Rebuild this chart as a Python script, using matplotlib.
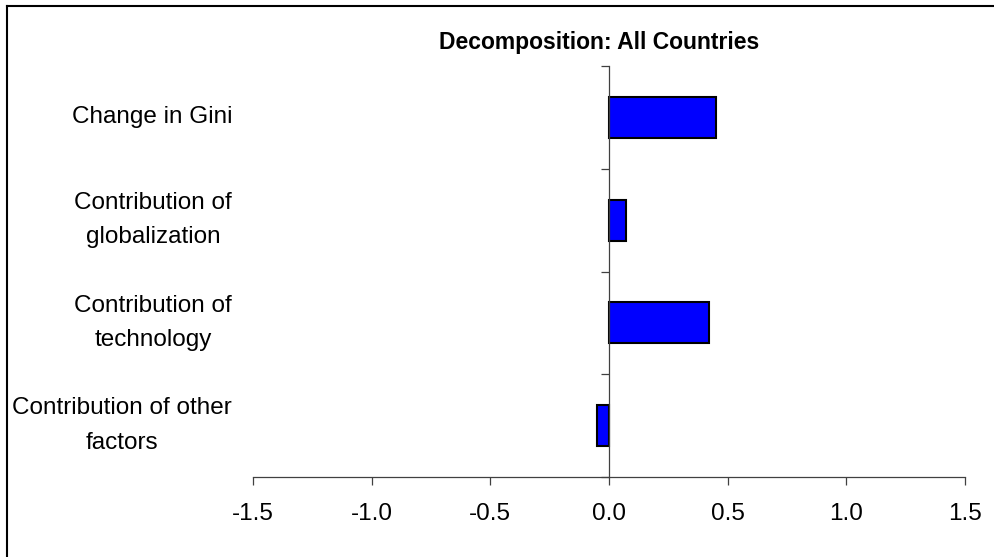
import matplotlib.pyplot as plt
from matplotlib.lines import Line2D
from matplotlib.ticker import FixedLocator

# 数据
categories = ['Change in Gini', 'Contribution of\nglobalization',
              'Contribution of\ntechnology', 'Contribution of other\nfactors']
values = [0.45, 0.07, 0.42, -0.05]
x_ticks = [-1.5, -1.0, -0.5, 0.0, 0.5, 1.0, 1.5]
title = 'Decomposition: All Countries'

plt.rcParams['font.family'] = ['Liberation Sans', 'DejaVu Sans']

fig = plt.figure(figsize=(9.95, 5.57), dpi=100)
ax = fig.add_axes([253 / 995, 1 - 477 / 557, 712 / 995, 411 / 557])

pos = list(range(len(categories)))
ax.barh(pos, values, height=0.4, color='#0000FF', edgecolor='black', linewidth=1.5, zorder=3)

ax.set_xlim(-1.5, 1.5)
ax.set_ylim(len(categories) - 0.5, -0.5)

# 坐标轴样式
axis_color = '#404040'
for s in ['top', 'right']:
    ax.spines[s].set_visible(False)
ax.spines['left'].set_position(('data', 0))
ax.spines['left'].set_color(axis_color)
ax.spines['left'].set_zorder(4)
ax.spines['bottom'].set_color(axis_color)
ax.spines['left'].set_linewidth(0.9)
ax.spines['bottom'].set_linewidth(0.9)

ax.set_xticks(x_ticks)
ax.set_xticklabels([f'{v:.1f}' for v in x_ticks], fontsize=17.5)
ax.tick_params(axis='x', direction='out', length=5.5, width=0.9, color=axis_color, pad=13)

# 类别分隔刻度
ax.set_yticks([])
ax.yaxis.set_minor_locator(FixedLocator([i - 0.5 for i in range(len(categories) + 1)]))
ax.tick_params(axis='y', which='minor', direction='out', length=5.5, width=0.9, color=axis_color)

# 类别标签
sec = ax.secondary_yaxis('left')
sec.set_yticks(pos)
sec.set_yticklabels(categories, fontsize=17.5, ha='right', va='center',
                    multialignment='center', linespacing=1.75)
sec.tick_params(length=0, pad=15)
sec.spines['left'].set_visible(False)

fig.text(599 / 995, 1 - 43 / 557, title, ha='center', va='center', fontsize=16.5, fontweight='bold')

# 外边框
fig.add_artist(Line2D([7 / 995, 1.0], [1 - 6 / 557, 1 - 6 / 557], transform=fig.transFigure, color='black', linewidth=1.5))
fig.add_artist(Line2D([7 / 995, 7 / 995], [0.0, 1 - 6 / 557], transform=fig.transFigure, color='black', linewidth=1.5))

fig.savefig('out.png', dpi=100)
